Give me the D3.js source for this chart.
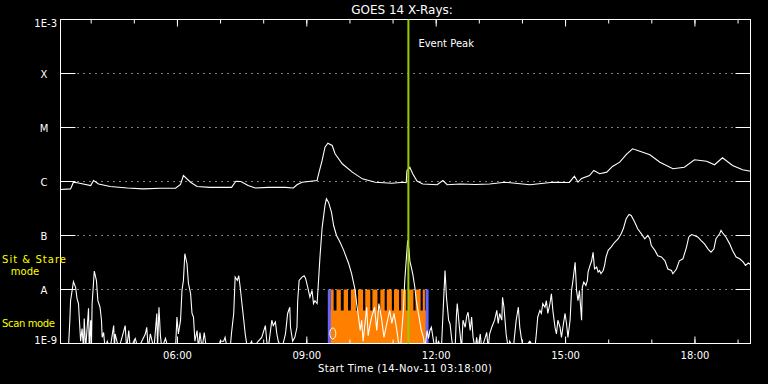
<!DOCTYPE html>
<html>
<head>
<meta charset="utf-8">
<script src="https://cdn.jsdelivr.net/npm/d3@7"></script>
<style>
  html, body { margin: 0; padding: 0; background: #000; }
  svg { display: block; font-family: "DejaVu Sans", sans-serif; }
</style>
</head>
<body>
<svg id="chart"></svg>
<script>
/* global d3 */

// ---- data (14-Nov-2011) ----
const START = '03:18';
const END = '19:18';

const yTickValues = [1e-9, 1e-8, 1e-7, 1e-6, 1e-5, 1e-4, 1e-3];
const yTickLabels = ['1E-9', 'A', 'B', 'C', 'M', 'X', '1E-3'];

// 1-8 A channel (upper trace), W/m^2
const longTimes = [
  '03:18', '03:32', '03:36', '03:43', '04:00', '04:04', '04:11', '04:27', '04:51', '05:13',
  '05:37', '05:58', '06:05', '06:09', '06:19', '06:28', '06:46', '07:16', '07:22', '07:29',
  '07:39', '07:49', '08:07', '08:31', '08:42', '08:47', '08:54', '09:15', '09:16', '09:22',
  '09:26', '09:30', '09:36', '09:40', '09:50', '10:04', '10:18', '10:36', '10:59', '11:15',
  '11:19', '11:20', '11:24', '11:28', '11:34', '11:42', '12:02', '12:10', '12:16', '12:34',
  '12:55', '13:15', '13:36', '14:11', '14:43', '15:06', '15:13', '15:18', '15:23', '15:34',
  '15:40', '15:48', '15:58', '16:06', '16:16', '16:26', '16:34', '16:44', '16:58', '17:12',
  '17:30', '17:46', '18:00', '18:17', '18:28', '18:39', '18:53', '19:07', '19:18',
];
const longFlux = [
  7.1e-7, 7.3e-7, 9.7e-7, 9.4e-7, 8.4e-7, 1.04e-6, 9.0e-7, 8.1e-7, 7.6e-7, 7.3e-7,
  7.5e-7, 7.5e-7, 8.8e-7, 1.29e-6, 9.7e-7, 8.1e-7, 7.8e-7, 7.8e-7, 1.01e-6, 1.0e-6,
  8.4e-7, 7.6e-7, 7.8e-7, 7.8e-7, 7.6e-7, 8.7e-7, 9.7e-7, 1.04e-6, 1.2e-6, 2.45e-6,
  4.31e-6, 5.1e-6, 4.64e-6, 3.26e-6, 2.13e-6, 1.49e-6, 1.12e-6, 9.7e-7, 9.3e-7, 9.7e-7,
  9.5e-7, 1.6e-6, 1.84e-6, 1.39e-6, 1.02e-6, 9.0e-7, 8.7e-7, 1.04e-6, 8.7e-7, 9.0e-7,
  8.8e-7, 9.0e-7, 9.7e-7, 8.7e-7, 9.7e-7, 9.6e-7, 1.25e-6, 9.7e-7, 1.14e-6, 1.29e-6,
  1.6e-6, 1.39e-6, 1.49e-6, 1.9e-6, 2.28e-6, 3.26e-6, 4.03e-6, 3.64e-6, 3.12e-6, 2.28e-6,
  1.72e-6, 1.84e-6, 2.52e-6, 2.38e-6, 2.04e-6, 2.75e-6, 1.98e-6, 1.65e-6, 1.55e-6,
];

// 0.5-4 A channel (lower trace), W/m^2 ; values under 1E-9 sit on the floor
const shortTimes = [
  '03:18', '03:29', '03:31', '03:32', '03:36', '03:39', '03:41', '03:43', '03:46', '03:48',
  '03:50', '03:51', '03:53', '03:57', '03:58', '04:00', '04:01', '04:02', '04:05', '04:08',
  '04:10', '04:13', '04:15', '04:16', '04:18', '04:20', '04:23', '04:27', '04:32', '04:33',
  '04:34', '04:39', '04:44', '04:48', '04:50', '04:53', '04:55', '05:02', '05:06', '05:16',
  '05:18', '05:20', '05:23', '05:28', '05:32', '05:33', '05:35', '05:37', '05:39', '05:44',
  '05:48', '05:58', '06:00', '06:02', '06:05', '06:07', '06:09', '06:11', '06:14', '06:16',
  '06:19', '06:21', '06:23', '06:25', '06:28', '06:30', '06:32', '06:35', '06:38', '06:41',
  '06:58', '07:00', '07:05', '07:07', '07:10', '07:14', '07:16', '07:19', '07:21', '07:24',
  '07:26', '07:28', '07:31', '07:33', '07:35', '07:38', '07:44', '07:46', '07:53', '07:58',
  '08:03', '08:05', '08:07', '08:12', '08:14', '08:17', '08:19', '08:21', '08:26', '08:31',
  '08:34', '08:37', '08:38', '08:41', '08:44', '08:47', '08:48', '08:50', '08:54', '08:57',
  '08:59', '09:02', '09:05', '09:08', '09:10', '09:12', '09:15', '09:17', '09:19', '09:22',
  '09:26', '09:28', '09:31', '09:35', '09:38', '09:42', '09:47', '09:52', '09:59', '10:03',
  '10:08', '10:10', '10:12', '10:15', '10:17', '10:19', '10:24', '10:26', '10:29', '10:31',
  '10:35', '10:38', '10:41', '10:45', '10:48', '10:52', '10:56', '10:59', '11:02', '11:06',
  '11:08', '11:11', '11:15', '11:17', '11:20', '11:21', '11:23', '11:24', '11:26', '11:28',
  '11:31', '11:33', '11:36', '11:40', '11:43', '11:45', '11:48', '11:50', '11:52', '11:54',
  '11:57', '11:59', '12:04', '12:08', '12:11', '12:13', '12:15', '12:18', '12:20', '12:22',
  '12:24', '12:27', '12:29', '12:30', '12:33', '12:36', '12:38', '12:41', '12:43', '12:45',
  '12:48', '12:50', '12:52', '12:55', '12:57', '12:59', '13:02', '13:04', '13:09', '13:11',
  '13:13', '13:15', '13:18', '13:22', '13:25', '13:27', '13:29', '13:32', '13:33', '13:35',
  '13:38', '13:41', '13:43', '13:48', '13:50', '13:52', '13:55', '13:57', '13:59', '14:02',
  '14:11', '14:18', '14:20', '14:22', '14:25', '14:27', '14:29', '14:32', '14:34', '14:36',
  '14:39', '14:41', '14:43', '14:46', '14:48', '14:50', '14:53', '14:55', '14:57', '15:00',
  '15:02', '15:04', '15:07', '15:09', '15:11', '15:14', '15:16', '15:18', '15:20', '15:23',
  '15:24', '15:26', '15:29', '15:31', '15:32', '15:34', '15:37', '15:39', '15:41', '15:44',
  '15:46', '15:48', '15:50', '15:53', '15:55', '15:57', '16:00', '16:04', '16:09', '16:14',
  '16:18', '16:21', '16:25', '16:29', '16:32', '16:37', '16:41', '16:46', '16:51', '16:55',
  '16:58', '17:00', '17:05', '17:09', '17:14', '17:19', '17:23', '17:28', '17:30', '17:35',
  '17:39', '17:44', '17:49', '17:52', '17:56', '18:00', '18:05', '18:09', '18:14', '18:19',
  '18:23', '18:27', '18:30', '18:35', '18:37', '18:40', '18:44', '18:49', '18:53', '18:58',
  '19:03', '19:08', '19:11', '19:15', '19:18',
];
const shortFlux = [
  8e-10, 8e-10, 2.7e-9, 6.2e-9, 1.4e-8, 1.1e-8, 6.8e-9, 5.5e-9, 1.1e-9, 1.9e-9,
  8e-10, 2.9e-9, 8e-10, 4.5e-9, 8e-10, 2.7e-9, 8e-10, 5.5e-9, 2.2e-8, 1.47e-8,
  6.2e-9, 4.7e-9, 2.7e-9, 1.3e-9, 1.6e-9, 8e-10, 1.1e-9, 8e-10, 2.15e-9, 8e-10,
  1.5e-9, 8e-10, 1.35e-9, 2.15e-9, 8e-10, 1.74e-9, 8e-10, 1.24e-9, 8e-10, 1.5e-9,
  2.0e-9, 8e-10, 1.5e-9, 8e-10, 3.6e-9, 8e-10, 4.7e-9, 1.4e-9, 8e-10, 1.24e-9,
  8e-10, 8e-10, 3.1e-9, 1.5e-9, 2.7e-9, 9.6e-9, 1.47e-8, 4.6e-8, 3.0e-8, 1.29e-8,
  8.4e-9, 3.6e-9, 3.1e-9, 1.1e-9, 1.74e-9, 8e-10, 1.6e-9, 8e-10, 1.6e-9, 8e-10,
  8e-10, 1.1e-9, 1.1e-9, 1.3e-9, 8e-10, 8e-10, 1.6e-9, 3.6e-9, 1.7e-8, 1.47e-8,
  1.8e-8, 1.1e-8, 4.7e-9, 2.7e-9, 1.5e-9, 8e-10, 1.1e-9, 8e-10, 1.1e-9, 1.3e-9,
  2.15e-9, 1.1e-9, 8e-10, 2.7e-9, 2.15e-9, 2.5e-9, 1.5e-9, 1.1e-9, 8e-10, 1.5e-9,
  3.6e-9, 4.7e-9, 2.0e-9, 1.1e-9, 1.3e-9, 2.0e-9, 6.2e-9, 1.47e-8, 1.7e-8, 1.8e-8,
  1.6e-8, 1.1e-8, 7.2e-9, 9.6e-9, 5.5e-9, 6.2e-9, 5.5e-9, 1.47e-8, 4.0e-8, 1.4e-7,
  3.6e-7, 4.8e-7, 4.1e-7, 2.7e-7, 1.53e-7, 1.0e-7, 7.5e-8, 5.3e-8, 3.0e-8, 1.96e-8,
  9.6e-9, 5.5e-9, 3.6e-9, 1.74e-9, 2.7e-9, 1.1e-9, 4.7e-9, 1.4e-9, 2.35e-9, 3.1e-9,
  4.7e-9, 1.74e-9, 5.5e-9, 2.7e-9, 1.3e-9, 2.35e-9, 4.1e-9, 2.35e-9, 3.6e-9, 1.74e-9,
  1.1e-9, 8e-10, 4.1e-9, 1.47e-8, 5.3e-8, 8.1e-8, 5.3e-8, 3.4e-8, 2.6e-8, 1.96e-8,
  1.1e-8, 6.2e-9, 3.6e-9, 1.74e-9, 1.3e-9, 8e-10, 1.74e-9, 1.24e-9, 1.74e-9, 2.0e-9,
  1.1e-9, 8e-10, 1.1e-9, 8e-10, 6.2e-9, 2.25e-8, 7.2e-9, 2.7e-9, 2.3e-9, 1.3e-9,
  8e-10, 8e-10, 3.6e-9, 5.5e-9, 2.0e-9, 8e-10, 2.7e-9, 2.0e-9, 3.1e-9, 3.8e-9,
  1.74e-9, 3.1e-9, 1.3e-9, 8e-10, 1.3e-9, 8e-10, 1.5e-9, 8e-10, 1.3e-9, 1.6e-9,
  8e-10, 1.5e-9, 2.0e-9, 2.7e-9, 4.1e-9, 2.35e-9, 3.6e-9, 2.7e-9, 7.2e-9, 4.7e-9,
  1.5e-9, 8e-10, 1.1e-9, 8e-10, 1.5e-9, 2.7e-9, 4.7e-9, 2.0e-9, 1.3e-9, 8e-10,
  1.1e-9, 8e-10, 1.5e-9, 3.1e-9, 4.1e-9, 3.6e-9, 5.5e-9, 4.7e-9, 6.2e-9, 3.6e-9,
  5.5e-9, 8.3e-9, 4.1e-9, 2.0e-9, 1.5e-9, 2.7e-9, 2.0e-9, 1.3e-9, 2.0e-9, 3.6e-9,
  2.35e-9, 1.3e-9, 2.7e-9, 9.6e-9, 1.47e-8, 3.2e-8, 9.6e-9, 6.2e-9, 9.6e-9, 2.7e-9,
  1.1e-8, 1.37e-8, 1.19e-8, 1.47e-8, 2.1e-8, 2.6e-8, 3.4e-8, 4.9e-8, 2.4e-8, 2.6e-8,
  2.1e-8, 2.25e-8, 1.96e-8, 2.25e-8, 2.8e-8, 4.0e-8, 5.3e-8, 6.1e-8, 7.5e-8, 8.7e-8,
  1.08e-7, 1.33e-7, 2.04e-7, 2.45e-7, 2.35e-7, 1.76e-7, 1.33e-7, 1.08e-7, 8.7e-8, 1.0e-7,
  8.7e-8, 6.5e-8, 5.3e-8, 4.2e-8, 4.0e-8, 3.4e-8, 2.4e-8, 2.25e-8, 1.96e-8, 2.4e-8,
  3.4e-8, 3.7e-8, 6.1e-8, 9.3e-8, 1.04e-7, 1.0e-7, 9.3e-8, 8.1e-8, 7.0e-8, 5.6e-8,
  4.9e-8, 5.6e-8, 8.7e-8, 1.08e-7, 1.24e-7, 1.08e-7, 9.3e-8, 7.0e-8, 5.3e-8, 4.0e-8,
  3.7e-8, 3.2e-8, 2.8e-8, 3.1e-8, 2.9e-8,
];

const eventPeak = '11:22';

// observation timeline: scan run and the sit & stare exposures inside it
const obsStart = '09:32';
const obsEnd = '11:48';
const stareStarts = ['09:34', '09:42', '09:52', '10:02', '10:12', '10:22', '10:32', '10:43', '10:52', '11:02', '11:12', '11:22', '11:32', '11:42'];
const stareEnds   = ['09:38', '09:48', '09:58', '10:09', '10:19', '10:29', '10:39', '10:49', '10:59', '11:09', '11:19', '11:29', '11:39', '11:45'];

//-------------------------------------------------

const WIDTH = 768;
const HEIGHT = 384;
const margin = { top: 19.5, right: 17.5, bottom: 40.5, left: 60.5 };

const parseTime = t => new Date(`2011-11-14T${t}:00Z`);

const x = d3.scaleUtc()
  .domain([parseTime(START), parseTime(END)])
  .range([margin.left, WIDTH - margin.right]);

const y = d3.scaleLog()
  .domain([1e-9, 1e-3])
  .range([HEIGHT - margin.bottom, margin.top]);

const [x0, x1] = x.range();
const [yBottom, yTop] = y.range();

const svg = d3.select('#chart')
  .attr('width', WIDTH)
  .attr('height', HEIGHT);

svg.append('rect')
  .attr('width', WIDTH)
  .attr('height', HEIGHT)
  .attr('fill', '#000');

svg.append('clipPath')
  .attr('id', 'plot-clip')
  .append('rect')
  .attr('x', x0)
  .attr('y', yTop)
  .attr('width', x1 - x0)
  .attr('height', yBottom - yTop);

// ---- observation timeline (orange / blue) ----
const laneTop = y(1e-8);
const laneMid = laneTop + 21;

const timeline = svg.append('g').attr('clip-path', 'url(#plot-clip)');

timeline.append('rect')
  .attr('x', x(parseTime(obsStart)))
  .attr('y', laneMid)
  .attr('width', x(parseTime(obsEnd)) - x(parseTime(obsStart)))
  .attr('height', yBottom - laneMid)
  .attr('fill', '#ff8000');

timeline.selectAll('rect.stare')
  .data(stareStarts.map((s, i) => ({ s: parseTime(s), e: parseTime(stareEnds[i]) })))
  .join('rect')
  .attr('class', 'stare')
  .attr('x', d => x(d.s))
  .attr('y', laneTop)
  .attr('width', d => x(d.e) - x(d.s))
  .attr('height', laneMid - laneTop + 1)
  .attr('fill', '#ff8000');

timeline.selectAll('rect.edge')
  .data([obsStart, obsEnd])
  .join('rect')
  .attr('class', 'edge')
  .attr('x', d => x(parseTime(d)) - 1.5)
  .attr('y', laneTop)
  .attr('width', 3)
  .attr('height', yBottom - laneTop)
  .attr('fill', '#6464ff');

timeline.append('ellipse')
  .attr('cx', x(parseTime(obsStart)) + 3.5)
  .attr('cy', yBottom - 10)
  .attr('rx', 3)
  .attr('ry', 5.5)
  .attr('fill', 'none')
  .attr('stroke', '#fff');

// ---- grid and axes ----
const grid = svg.append('g');

grid.selectAll('line.dots')
  .data(yTickValues.slice(1, -1))
  .join('line')
  .attr('class', 'dots')
  .attr('x1', x0 + 17)
  .attr('x2', x1 - 15)
  .attr('y1', d => y(d))
  .attr('y2', d => y(d))
  .attr('stroke', '#fff')
  .attr('stroke-dasharray', '1 5');

grid.selectAll('line.ytick-l')
  .data(yTickValues)
  .join('line')
  .attr('class', 'ytick-l')
  .attr('x1', x0)
  .attr('x2', x0 + 15)
  .attr('y1', d => y(d))
  .attr('y2', d => y(d))
  .attr('stroke', '#fff');

grid.selectAll('line.ytick-r')
  .data(yTickValues)
  .join('line')
  .attr('class', 'ytick-r')
  .attr('x1', x1 - 15)
  .attr('x2', x1)
  .attr('y1', d => y(d))
  .attr('y2', d => y(d))
  .attr('stroke', '#fff');

svg.append('g')
  .selectAll('text')
  .data(yTickValues)
  .join('text')
  .attr('x', (d, i) => (i === 0 || i === yTickValues.length - 1) ? 57 : 44)
  .attr('y', (d, i) => i === 0 ? y(d) : i === yTickValues.length - 1 ? y(d) + 7.5 : y(d) + 4)
  .attr('text-anchor', (d, i) => (i === 0 || i === yTickValues.length - 1) ? 'end' : 'middle')
  .attr('fill', '#fff')
  .attr('font-size', 10)
  .text((d, i) => yTickLabels[i]);

const styleAxis = g => {
  g.select('.domain').remove();
  g.selectAll('line').attr('stroke', '#fff');
  g.selectAll('text')
    .attr('fill', '#fff')
    .attr('font-family', '"DejaVu Sans", sans-serif')
    .attr('font-size', 10);
  g.attr('font-family', null).attr('font-size', null);
};

svg.append('g')
  .attr('transform', `translate(0,${yBottom})`)
  .call(d3.axisBottom(x).ticks(d3.utcHour.every(1)).tickSize(-4).tickFormat(''))
  .call(styleAxis);

svg.append('g')
  .attr('transform', `translate(0,${yBottom})`)
  .call(d3.axisBottom(x).ticks(d3.utcHour.every(3)).tickSize(-7).tickPadding(8)
    .tickFormat(d3.utcFormat('%H:%M')))
  .call(styleAxis);

svg.append('g')
  .attr('transform', `translate(0,${yTop})`)
  .call(d3.axisTop(x).ticks(d3.utcHour.every(1)).tickSize(-4).tickFormat(''))
  .call(styleAxis);

svg.append('g')
  .attr('transform', `translate(0,${yTop})`)
  .call(d3.axisTop(x).ticks(d3.utcHour.every(3)).tickSize(-7).tickFormat(''))
  .call(styleAxis);

svg.append('rect')
  .attr('x', x0)
  .attr('y', yTop)
  .attr('width', x1 - x0)
  .attr('height', yBottom - yTop)
  .attr('fill', 'none')
  .attr('stroke', '#fff');

// ---- flux traces ----
const line = d3.line()
  .x(d => x(d.t))
  .y(d => y(d.v));

const traces = svg.append('g').attr('clip-path', 'url(#plot-clip)');

[[longTimes, longFlux], [shortTimes, shortFlux]].forEach(([times, flux]) => {
  traces.append('path')
    .datum(times.map((t, i) => ({ t: parseTime(t), v: flux[i] })))
    .attr('d', line)
    .attr('fill', 'none')
    .attr('stroke', '#fff')
    .attr('stroke-width', 1.1);
});

// ---- event peak marker ----
const peakX = x(parseTime(eventPeak));
svg.append('line')
  .attr('x1', peakX)
  .attr('x2', peakX)
  .attr('y1', yTop)
  .attr('y2', yBottom)
  .attr('stroke', '#99cc00')
  .attr('stroke-width', 2);

svg.append('text')
  .attr('x', peakX + 10)
  .attr('y', 47)
  .attr('fill', '#fff')
  .attr('font-size', 10)
  .text('Event Peak');

// ---- titles ----
svg.append('text')
  .attr('x', 402)
  .attr('y', 14)
  .attr('text-anchor', 'middle')
  .attr('fill', '#fff')
  .attr('font-size', 12)
  .text('GOES 14 X-Rays:');

svg.append('text')
  .attr('x', 405)
  .attr('y', 372)
  .attr('text-anchor', 'middle')
  .attr('fill', '#fff')
  .attr('font-size', 10)
  .attr('textLength', 174)
  .text('Start Time (14-Nov-11 03:18:00)');

const modes = svg.append('g')
  .attr('fill', '#ffff00')
  .attr('font-size', 10);

modes.append('text').attr('x', 2).attr('y', 263).attr('textLength', 64).text('Sit & Stare');
modes.append('text').attr('x', 25).attr('y', 275).attr('text-anchor', 'middle').text('mode');
modes.append('text').attr('x', 2).attr('y', 327).attr('textLength', 53).text('Scan mode');
</script>
</body>
</html>
